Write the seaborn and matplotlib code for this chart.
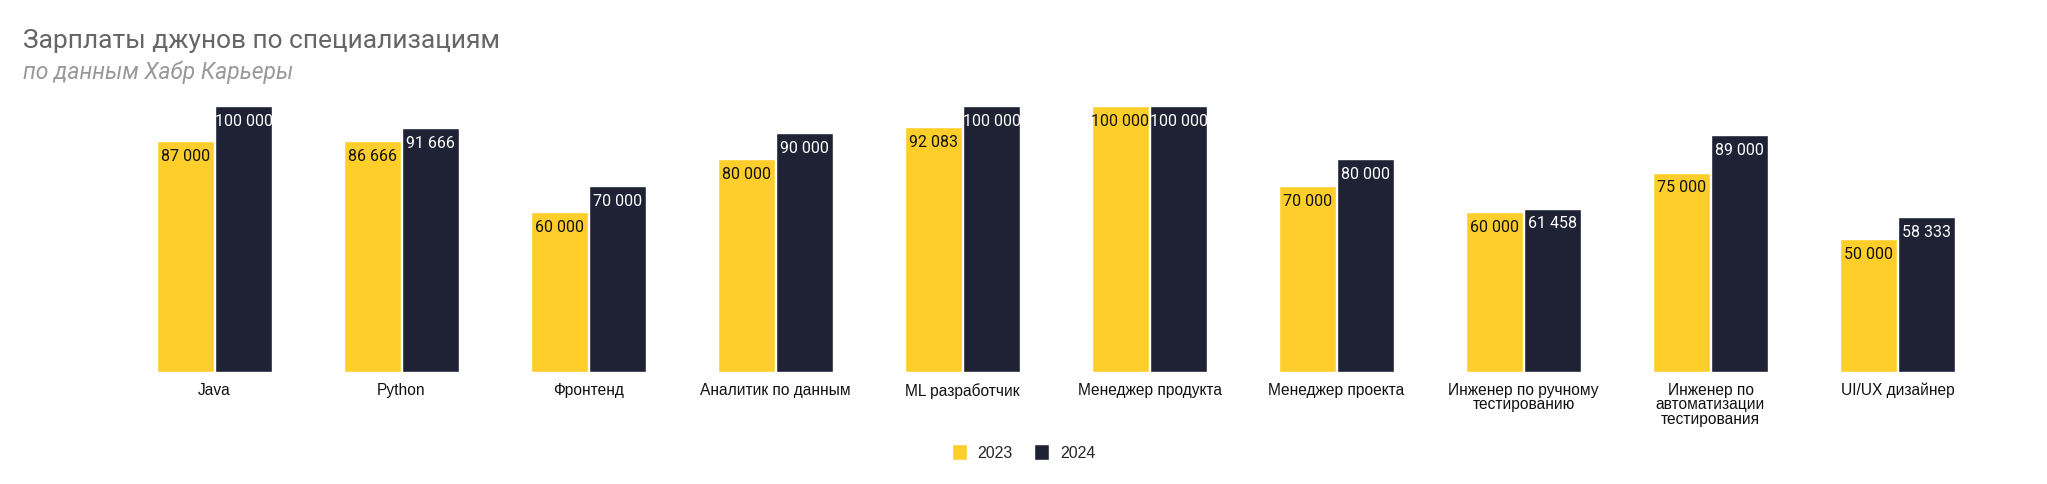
import matplotlib
matplotlib.use("Agg")
import matplotlib.pyplot as plt
import seaborn as sns
import pandas as pd

categories = ["Java", "Python", "Фронтенд", "Аналитик по данным", "ML разработчик",
              "Менеджер продукта", "Менеджер проекта", "Инженер по ручному\nтестированию",
              "Инженер по\nавтоматизации\nтестирования", "UI/UX дизайнер"]
values_2023 = [87000, 86666, 60000, 80000, 92083, 100000, 70000, 60000, 75000, 50000]
values_2024 = [100000, 91666, 70000, 90000, 100000, 100000, 80000, 61458, 89000, 58333]
years = ["2023", "2024"]
colors = ["#FFCE2B", "#1F2235"]
title = "Зарплаты джунов по специализациям"
subtitle = "по данным Хабр Карьеры"

df = pd.DataFrame({
    "cat": categories * 2,
    "value": values_2023 + values_2024,
    "year": [years[0]] * len(categories) + [years[1]] * len(categories),
})

sns.set_theme(style="white")
plt.rcParams["font.family"] = ["Liberation Sans", "DejaVu Sans"]

fig = plt.figure(figsize=(20.47, 4.85), dpi=100)
ax = fig.add_axes([121 / 2047, 1 - 373 / 485, (1991 - 121) / 2047, (373 - 107) / 485])

sns.barplot(data=df, x="cat", y="value", hue="year", palette=colors, ax=ax,
            width=0.626, gap=0.03, saturation=1, legend=True)

ax.set_ylim(0, 100000)
ax.set_xlim(-0.5, len(categories) - 0.5)
ax.set_xlabel("")
ax.set_ylabel("")
ax.set_yticks([])
for s in ax.spines.values():
    s.set_visible(False)
ax.tick_params(axis="x", length=0, pad=7)
for lbl in ax.get_xticklabels():
    lbl.set_fontsize(11.2)
    lbl.set_color("#111111")
    lbl.set_linespacing(0.95)
    lbl.set_verticalalignment("top")

text_colors = ["#111111", "#FFFFFF"]
for cont, tc, vals in zip(ax.containers, text_colors, [values_2023, values_2024]):
    for patch, v in zip(cont.patches, vals):
        ax.annotate(f"{v:,}".replace(",", " "),
                    xy=(patch.get_x() + patch.get_width() / 2, patch.get_height()),
                    xytext=(0, -5), textcoords="offset points",
                    ha="center", va="top", fontsize=11.5, color=tc,
                    family=["Roboto", "DejaVu Sans"])

handles, labels = ax.get_legend_handles_labels()
ax.legend_.remove()
fig.legend(handles, labels, loc="center", bbox_to_anchor=(1023.5 / 2047, 1 - 453 / 485),
           ncol=2, frameon=False, fontsize=11.5, handlelength=0.95, handleheight=1.15,
           handletextpad=0.65, columnspacing=1.35)

fig.text(23 / 2047, 1 - 48 / 485, title, fontsize=19, color="#666666",
         family=["Roboto", "DejaVu Sans"], va="baseline", ha="left")
fig.text(23 / 2047, 1 - 79 / 485, subtitle, fontsize=16.5, color="#999999", style="italic",
         family=["Roboto", "DejaVu Sans"], va="baseline", ha="left")

fig.savefig("out.png", dpi=100, facecolor="white")
